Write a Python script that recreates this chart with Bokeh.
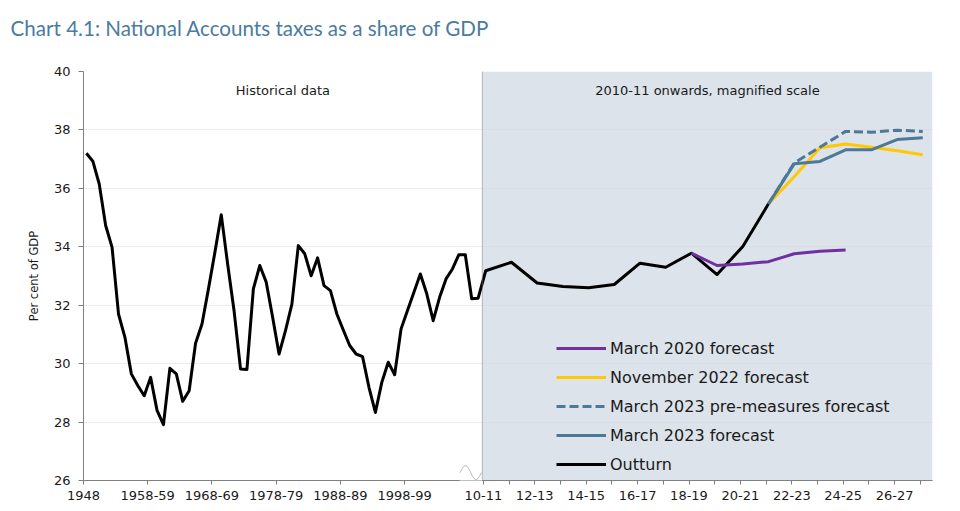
import math
from bokeh.plotting import figure
from bokeh.models import (FixedTicker, BoxAnnotation, Span, Label, Legend,
                          LegendItem, PolyAnnotation, Range1d, Title)
from bokeh.embed import file_html
from bokeh.resources import INLINE

# ---------------- data ----------------
hist_years = list(range(1948, 2010))
hist_values = [
    37.20, 36.93, 36.15, 34.73, 33.98, 31.70, 30.90, 29.65, 29.25, 28.90,
    29.53, 28.40, 27.91, 29.84, 29.65, 28.71, 29.07, 30.70, 31.36, 32.55,
    33.80, 35.10, 33.40, 31.80, 29.82, 29.80, 32.56, 33.36, 32.79, 31.59,
    30.33, 31.13, 32.04, 34.04, 33.76, 33.01, 33.62, 32.67, 32.50, 31.70,
    31.15, 30.62, 30.33, 30.24, 29.19, 28.33, 29.36, 30.05, 29.62, 31.19,
    31.82, 32.44, 33.07, 32.39, 31.47, 32.27, 32.90, 33.24, 33.73, 33.73,
    32.22, 32.24,
]
recent_years = list(range(2010, 2022))          # 2010-11 .. 2021-22
recent_values = [33.18, 33.47, 32.76, 32.64, 32.60, 32.71,
                 33.44, 33.30, 33.78, 33.05, 34.01, 35.47]

mar20_years = list(range(2018, 2025))
mar20_values = [33.78, 33.36, 33.41, 33.49, 33.76, 33.85, 33.89]

nov22_years = list(range(2021, 2028))
nov22_values = [35.47, 36.40, 37.39, 37.52, 37.41, 37.29, 37.15]

mar23pre_years = list(range(2021, 2028))
mar23pre_values = [35.47, 36.87, 37.41, 37.95, 37.92, 37.99, 37.95]

mar23_years = list(range(2021, 2028))
mar23_values = [35.47, 36.84, 36.92, 37.32, 37.32, 37.67, 37.73]

hist_tick_years = [1948, 1958, 1968, 1978, 1988, 1998]
hist_tick_labels = ["1948", "1958-59", "1968-69", "1978-79", "1988-89", "1998-99"]
recent_tick_years = list(range(2010, 2028))
recent_label_years = list(range(2010, 2028, 2))

series_names = ["March 2020 forecast", "November 2022 forecast",
                "March 2023 pre-measures forecast", "March 2023 forecast", "Outturn"]
title_text = "Chart 4.1: National Accounts taxes as a share of GDP"

# ---------------- layout of the broken x axis ----------------
HIST_OFFSET = 0.45          # points sit slightly right of the ticks
RIGHT_TICK0 = 62.26         # position of the 2010-11 tick
RIGHT_STEP = 4.003          # magnified scale: one year in the right panel
RIGHT_OFFSET = 0.37
BREAK_X = 62.10
X_END = 132.2
PX_PER_Y = 29.2             # pixels per percentage point

def hist_tick(y):
    return round(float(y - 1948), 3)

def hx(y):
    return (y - 1948) + HIST_OFFSET

def rtick(y):
    return round(RIGHT_TICK0 + (y - 2010) * RIGHT_STEP, 3)

def rx(y):
    return rtick(y) + RIGHT_OFFSET

def fy(y):
    return f"{y % 100:02d}-{(y + 1) % 100:02d}"

FONT = "DejaVu Sans"
TXT = "#1a1a1a"
AX = "#808080"

p = figure(width=952, height=505, x_range=Range1d(0, X_END), y_range=Range1d(26, 40),
           output_backend="svg", toolbar_location=None,
           min_border_left=83, min_border_right=20, min_border_bottom=25, min_border_top=71,
           title=title_text)
p.outline_line_color = None
p.background_fill_color = "white"

# title (outermost) plus an invisible spacer between it and the frame
p.title.text_font = "Lato"
p.title.text_font_size = "20.6px"
p.title.text_font_style = "normal"
p.title.text_color = "#4a7ba0"
p.title.align = "left"
p.title.vertical_align = "top"
p.title.offset = -73
p.title.standoff = 0
p.add_layout(Title(text=" ", text_font_size="10px", standoff=17), "above")

# shading of the magnified part
p.add_layout(BoxAnnotation(left=BREAK_X, fill_color="#dce3ea", fill_alpha=1,
                           line_alpha=0, level="image"))

# grid
p.xgrid.visible = False
yticks = list(range(26, 41, 2))
p.yaxis.ticker = FixedTicker(ticks=yticks)
p.ygrid.ticker = FixedTicker(ticks=yticks)
p.ygrid.grid_line_color = "#d9d9d9"
p.ygrid.grid_line_dash = "1 1"
p.ygrid.grid_line_width = 1

# y axis
p.yaxis.axis_label = "Per cent of GDP"
p.yaxis.axis_label_text_font = FONT
p.yaxis.axis_label_text_font_size = "11.5px"
p.yaxis.axis_label_text_font_style = "normal"
p.yaxis.axis_label_text_color = TXT
p.yaxis.axis_label_standoff = 10
p.yaxis.major_label_text_font = FONT
p.yaxis.major_label_text_font_size = "13px"
p.yaxis.major_label_text_color = TXT
p.yaxis.major_label_standoff = 8
p.yaxis.axis_line_color = AX
p.yaxis.major_tick_line_color = AX
p.yaxis.major_tick_out = 5
p.yaxis.major_tick_in = 0
p.yaxis.minor_tick_line_color = None

# x axis
xticks = [hist_tick(y) for y in hist_tick_years] + [rtick(y) for y in recent_tick_years]
overrides = {}
for y, lab in zip(hist_tick_years, hist_tick_labels):
    overrides[hist_tick(y)] = lab
for y in recent_tick_years:
    overrides[rtick(y)] = fy(y) if y in recent_label_years else ""
p.xaxis.ticker = FixedTicker(ticks=xticks)
p.xaxis.major_label_overrides = overrides
p.xaxis.major_label_text_font = FONT
p.xaxis.major_label_text_font_size = "13px"
p.xaxis.major_label_text_color = TXT
p.xaxis.major_label_standoff = 6
p.xaxis.axis_line_color = AX
p.xaxis.major_tick_line_color = AX
p.xaxis.major_tick_out = 4
p.xaxis.major_tick_in = 0
p.xaxis.minor_tick_line_color = None

# break line
p.add_layout(Span(location=BREAK_X, dimension="height", line_color="#7a7a7a",
                  line_dash="1 1", line_width=1))

# axis break: gap in the axis line plus a small wave
p.add_layout(BoxAnnotation(left=58.55, right=62.05, bottom=25.93, top=26.06,
                           fill_color="white", fill_alpha=1, line_alpha=0, level="overlay"))
n = 30
amp = 7.0 / PX_PER_Y
sx = [58.65 + (61.95 - 58.65) * i / n for i in range(n + 1)]
sy = [26 + amp + 0.03 + amp * math.sin(2 * math.pi * i / n) for i in range(n + 1)]
p.add_layout(PolyAnnotation(xs=sx + sx[::-1], ys=sy + sy[::-1], fill_alpha=0,
                            line_color=AX, line_width=1, level="overlay"))

# panel captions
cap_y = 40 - 18.5 / PX_PER_Y
p.add_layout(Label(x=BREAK_X / 2, y=cap_y, text="Historical data", text_align="center",
                   text_baseline="middle", text_font=FONT, text_font_size="13px",
                   text_color=TXT))
p.add_layout(Label(x=(BREAK_X + X_END) / 2, y=cap_y, text="2010-11 onwards, magnified scale",
                   text_align="center", text_baseline="middle", text_font=FONT,
                   text_font_size="13px", text_color=TXT))

# lines
out_x = [hx(y) for y in hist_years] + [rx(y) for y in recent_years]
out_y = hist_values + recent_values
r_out = p.line(out_x, out_y, line_color="black", line_width=3, line_join="round")
r_m20 = p.line([rx(y) for y in mar20_years], mar20_values, line_color="#7030a0",
               line_width=3, line_join="round")
r_n22 = p.line([rx(y) for y in nov22_years], nov22_values, line_color="#ffc800",
               line_width=3, line_join="round")
r_pre = p.line([rx(y) for y in mar23pre_years], mar23pre_values, line_color="#4d7896",
               line_width=3, line_dash="9 4", line_join="round")
r_m23 = p.line([rx(y) for y in mar23_years], mar23_values, line_color="#4d7896",
               line_width=3, line_join="round")

legend = Legend(items=[
    LegendItem(label=series_names[0], renderers=[r_m20]),
    LegendItem(label=series_names[1], renderers=[r_n22]),
    LegendItem(label=series_names[2], renderers=[r_pre]),
    LegendItem(label=series_names[3], renderers=[r_m23]),
    LegendItem(label=series_names[4], renderers=[r_out]),
], location=(473, 6), glyph_width=50, glyph_height=20, label_height=20, spacing=9,
    padding=0, margin=0, label_standoff=4, background_fill_alpha=0, border_line_alpha=0,
    label_text_font=FONT, label_text_font_size="16px", label_text_color=TXT)
p.add_layout(legend)

open("out.html", "w").write(file_html(p, INLINE))
